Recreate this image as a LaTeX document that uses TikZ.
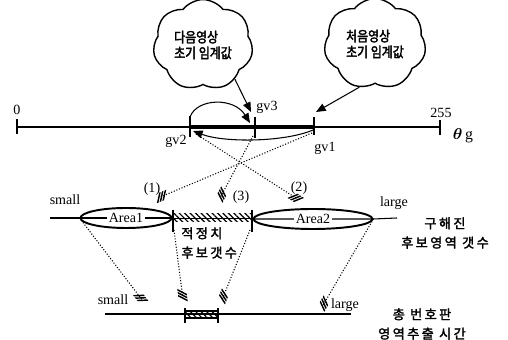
\documentclass[tikz,border=0pt]{standalone}
\usepackage{fontspec}
\setmainfont{Liberation Serif}
\newfontfamily\krnarrow{Noto Sans CJK KR}[FakeBold=2.5,FakeStretch=0.85]
\newfontfamily\krwide{Noto Sans CJK KR}[FakeBold=2,LetterSpace=18]
\usetikzlibrary{arrows.meta,positioning,shapes.geometric,shapes.symbols,patterns.meta,calc}
\tikzset{
  >={Triangle[length=5.5pt,width=4.5pt]},
  lbl/.style={font=\fontsize{8}{9}\selectfont,inner sep=1pt},
  krnote/.style={font=\krnarrow\fontsize{8}{9}\selectfont,align=left},
  krlbl/.style={font=\krwide\fontsize{7.5}{11}\selectfont,align=center,inner sep=0pt},
  bubble/.style={cloud,cloud puffs=7,cloud puff arc=105,draw,thick,inner sep=0pt,
    minimum width=#1},
  axis/.style={line width=0.9pt},
  tick/.style={line width=1pt},
  pointer/.style={->,semithick},
  hatch/.style={densely dotted,semithick,
    -{Bar[width=5pt,line width=1pt,slant=0.7,sep=0.7pt]Bar[width=5pt,line width=1pt,slant=0.7,sep=0.7pt]Bar[width=5pt,line width=1pt,slant=0.7]}},
  area/.style={ellipse,draw,line width=1.1pt,inner sep=0pt,minimum width=#1,minimum height=0.4cm},
  areatxt/.style={fill=white,inner sep=1pt,font=\fontsize{8}{9}\selectfont},
  hatchbar/.style={pattern={Lines[angle=-45,distance=2.2pt,line width=0.7pt]}},
}
\begin{document}
\begin{tikzpicture}[x=0.02cm,y=-0.02cm]
  \useasboundingbox (0,0) rectangle (508,340);
  % threshold axis
  \coordinate (o) at (17,127);
  \coordinate (max) at (440,127);
  \coordinate (gv2) at (190,127);
  \coordinate (gv3) at (255,127);
  \coordinate (gv1) at (314,127);
  \draw[axis] (o) -- (max);
  \draw[line width=1.8pt] (gv2) -- (gv1);
  \foreach \p/\a/\b in {o/8/7,gv2/11/10,gv3/10/11,gv1/10/8,max/7/8}
    \draw[tick] ($(\p)+(0,-\a)$) -- ($(\p)+(0,\b)$);
  \node[lbl] (zero) at (17,110) {0};
  \node[lbl] (maxlbl) at (441,113) {255};
  \node[lbl] (thlbl) at (463,136) {\fontsize{9}{9}\selectfont{\boldmath$\theta$}\,g};
  \node[lbl] (gv3lbl) at (267,107) {gv3};
  \node[lbl] (gv2lbl) at (176,141) {gv2};
  \node[lbl] (gv1lbl) at (325,148) {gv1};
  % clouds
  \node[bubble=2cm,minimum height=1.52cm,krnote] (cloud1) at (203,45) {다음영상\\초기 임계값};
  \node[bubble=2.04cm,minimum height=1.36cm,krnote] (cloud2) at (375,44) {처음영상\\초기 임계값};
  \coordinate (c1tip) at (251,112);
  \coordinate (c2tip) at (316,112);
  \draw[pointer] (cloud1.-47) -- (c1tip);
  \draw[pointer] (cloud2.-110) -- (c2tip);
  % jumps between thresholds
  \coordinate (gv2top) at (190,117);
  \coordinate (arcR) at (250,123);
  \coordinate (gv1low) at (313,130);
  \coordinate (gv2low) at (193,131);
  \draw[pointer] (gv2top) .. controls (197,98) and (234,97) .. (arcR);
  \draw[pointer] (gv1low) .. controls (285,142) and (225,143) .. (gv2low);
  % candidate count row
  \node[area=1.82cm] (area1) at (126,218) {};
  \node[area=2.38cm] (area2) at (313,219) {};
  \coordinate (midL) at (50,218);
  \coordinate (midR) at (397,218);
  \coordinate (barL) at (173,218);
  \coordinate (barR) at (252,218);
  \draw[semithick] (midL) -- (area1.west) -- (area1.east);
  \draw[semithick] (area2.west) -- (area2.east) -- (midR);
  \path[hatchbar] ($(barL)+(0,-4)$) rectangle ($(barR)+(0,4)$);
  \draw (barL) -- (barR);
  \foreach \p in {barL,barR}
    \draw[tick] ($(\p)+(0,-8)$) -- ($(\p)+(0,14)$);
  \node[areatxt] (a1txt) at (area1) {Area1};
  \node[areatxt] (a2txt) at (area2) {Area2};
  \node[lbl] (small1) at (65,200) {small};
  \node[lbl] (large1) at (394,203) {large};
  \node[krlbl,align=left,anchor=west] (opt) at (181,243) {적정치\\후보갯수};
  \node[krlbl] (cnt) at (445,233) {구해진\\후보영역 갯수};
  % threshold to count
  \coordinate (gv1d) at (312,133);
  \coordinate (gv2d) at (196,134);
  \coordinate (gv3d) at (253,136);
  \coordinate (t1) at (158,198);
  \coordinate (t2) at (299,200);
  \coordinate (t3) at (220,198);
  \draw[hatch] (gv1d) -- (t1);
  \draw[hatch] (gv2d) -- (t2);
  \draw[hatch] (gv3d) -- (t3);
  \node[lbl] (n1) at (152,189) {(1)};
  \node[lbl] (n2) at (299,188) {(2)};
  \node[lbl] (n3) at (241,197) {(3)};
  % extraction time row
  \coordinate (lowL) at (105,314);
  \coordinate (lowR) at (351,314);
  \coordinate (tbL) at (185,314);
  \coordinate (tbR) at (218,314);
  \draw[line width=0.9pt] (lowL) -- (lowR);
  \draw[hatchbar,semithick] ($(tbL)+(0,-3)$) rectangle ($(tbR)+(0,4)$);
  \foreach \p in {tbL,tbR}
    \draw[tick] ($(\p)+(0,-6)$) -- ($(\p)+(0,9)$);
  \node[lbl] (small2) at (113,300) {small};
  \node[lbl] (large2) at (345,305) {large};
  \node[krlbl] (time) at (422,324) {총 번호판\\영역추출 시간};
  % count to time
  \coordinate (barLd) at (174,230);
  \coordinate (barRd) at (250,230);
  \coordinate (b1) at (143,301);
  \coordinate (b2) at (183,299);
  \coordinate (b3) at (222,300);
  \coordinate (b4) at (322,307);
  \draw[hatch] (area1.west) -- (b1);
  \draw[hatch] (barLd) -- (b2);
  \draw[hatch] (barRd) -- (b3);
  \draw[hatch] (area2.east) -- (b4);
\end{tikzpicture}
\end{document}
